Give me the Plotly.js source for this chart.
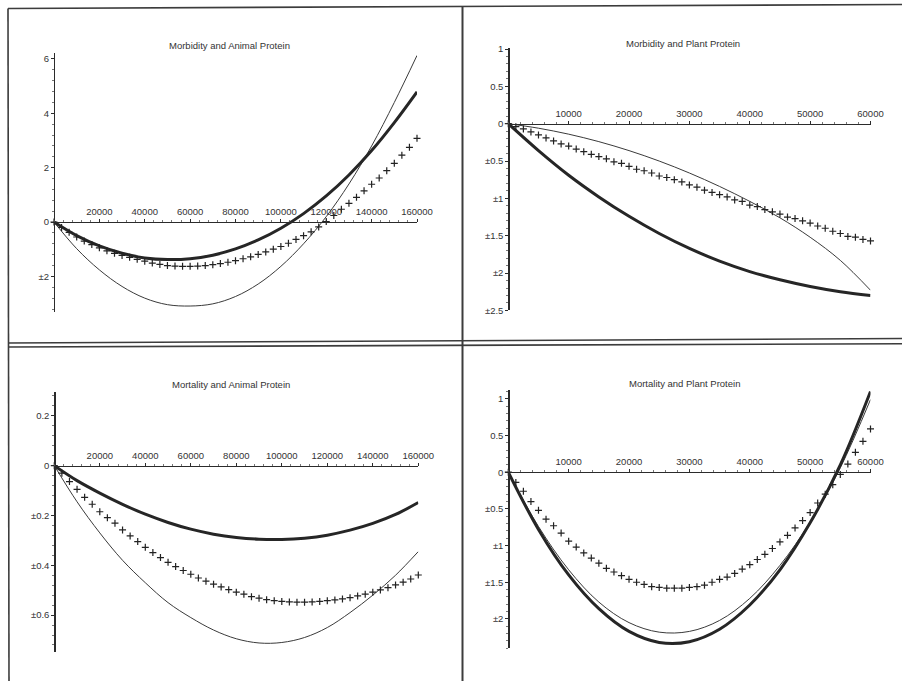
<!DOCTYPE html>
<html><head><meta charset="utf-8">
<script src="https://cdn.plot.ly/plotly-3.0.1.min.js"></script>
<style>html,body{margin:0;padding:0;background:#fff}#chart{width:902px;height:681px}</style>
</head><body><div id="chart"></div>
<script>
// ---------- DATA ----------
const titles = ['Morbidity and Animal Protein', 'Morbidity and Plant Protein',
                'Mortality and Animal Protein', 'Mortality and Plant Protein'];

const curveX160 = [0,10000,20000,30000,40000,50000,60000,70000,80000,90000,100000,110000,120000,130000,140000,150000,160000];
const curveX60 = [0,5000,10000,15000,20000,25000,30000,35000,40000,45000,50000,55000,60000];
const crossX160 = [0,3333,6667,10000,13333,16667,20000,23333,26667,30000,33333,36667,40000,43333,46667,50000,53333,56667,60000,63333,66667,70000,73333,76667,80000,83333,86667,90000,93333,96667,100000,103333,106667,110000,113333,116667,120000,123333,126667,130000,133333,136667,140000,143333,146667,150000,153333,156667,160000];
const crossX60 = [0,1250,2500,3750,5000,6250,7500,8750,10000,11250,12500,13750,15000,16250,17500,18750,20000,21250,22500,23750,25000,26250,27500,28750,30000,31250,32500,33750,35000,36250,37500,38750,40000,41250,42500,43750,45000,46250,47500,48750,50000,51250,52500,53750,55000,56250,57500,58750,60000];

// Morbidity & animal protein
const morbAnimThick = [0,-0.50,-0.88,-1.15,-1.32,-1.38,-1.35,-1.22,-0.99,-0.66,-0.23,0.31,0.96,1.73,2.63,3.66,4.79];
const morbAnimThin = [0,-0.98,-1.76,-2.37,-2.80,-3.04,-3.09,-3.01,-2.74,-2.28,-1.63,-0.80,0.20,1.40,2.80,4.40,6.13];
const morbAnimCross = [0,-0.20,-0.38,-0.55,-0.70,-0.83,-0.95,-1.06,-1.15,-1.23,-1.30,-1.37,-1.44,-1.51,-1.56,-1.60,-1.62,-1.63,-1.63,-1.62,-1.60,-1.57,-1.53,-1.48,-1.42,-1.35,-1.28,-1.19,-1.10,-1.00,-0.90,-0.78,-0.64,-0.50,-0.36,-0.18,0.02,0.24,0.47,0.69,0.91,1.15,1.39,1.62,1.89,2.16,2.46,2.75,3.08];

// Morbidity & plant protein
const morbPlantThick = [0,-0.36,-0.69,-0.98,-1.24,-1.47,-1.67,-1.84,-1.98,-2.09,-2.18,-2.25,-2.30];
const morbPlantThin = [0,-0.06,-0.14,-0.24,-0.36,-0.50,-0.66,-0.84,-1.04,-1.26,-1.52,-1.83,-2.23];
const morbPlantCross = [0,-0.04,-0.07,-0.11,-0.15,-0.19,-0.23,-0.27,-0.30,-0.34,-0.375,-0.41,-0.44,-0.47,-0.51,-0.53,-0.57,-0.61,-0.63,-0.66,-0.70,-0.72,-0.75,-0.78,-0.82,-0.85,-0.89,-0.92,-0.95,-0.98,-1.02,-1.04,-1.09,-1.11,-1.15,-1.18,-1.21,-1.25,-1.27,-1.30,-1.33,-1.37,-1.40,-1.44,-1.47,-1.51,-1.52,-1.55,-1.57];

// Mortality & animal protein
const mortAnimThick = [0,-0.06,-0.11,-0.155,-0.195,-0.228,-0.255,-0.275,-0.288,-0.295,-0.296,-0.291,-0.279,-0.259,-0.232,-0.196,-0.148];
const mortAnimThin = [0,-0.145,-0.27,-0.38,-0.47,-0.55,-0.61,-0.66,-0.695,-0.712,-0.71,-0.69,-0.65,-0.59,-0.52,-0.44,-0.345];
const mortAnimCross = [0,-0.03,-0.064,-0.095,-0.127,-0.155,-0.185,-0.209,-0.231,-0.258,-0.282,-0.305,-0.328,-0.349,-0.369,-0.388,-0.405,-0.421,-0.436,-0.451,-0.464,-0.476,-0.487,-0.498,-0.508,-0.516,-0.526,-0.532,-0.538,-0.542,-0.545,-0.547,-0.548,-0.548,-0.547,-0.545,-0.542,-0.539,-0.535,-0.530,-0.523,-0.516,-0.508,-0.499,-0.490,-0.479,-0.468,-0.455,-0.439];

// Mortality & plant protein
const mortPlantThick = [0,-0.78,-1.40,-1.86,-2.17,-2.32,-2.31,-2.14,-1.81,-1.33,-0.69,0.10,1.10];
const mortPlantThin = [0,-0.74,-1.33,-1.77,-2.05,-2.18,-2.17,-2.02,-1.72,-1.27,-0.68,0.06,0.99];
const mortPlantCross = [0,-0.14,-0.26,-0.40,-0.52,-0.64,-0.73,-0.83,-0.94,-1.02,-1.10,-1.17,-1.24,-1.31,-1.36,-1.41,-1.46,-1.50,-1.53,-1.56,-1.57,-1.58,-1.58,-1.58,-1.57,-1.56,-1.54,-1.50,-1.46,-1.43,-1.38,-1.32,-1.26,-1.19,-1.12,-1.04,-0.95,-0.86,-0.76,-0.66,-0.55,-0.42,-0.30,-0.17,-0.03,0.11,0.27,0.42,0.59];

// Tick labels
const xTicks160 = [20000,40000,60000,80000,100000,120000,140000,160000];
const xText160 = ['20000','40000','60000','80000','100000','120000','140000','160000'];
const xTicks60 = [10000,20000,30000,40000,50000,60000];
const xText60 = ['10000','20000','30000','40000','50000','60000'];
const yTicks1 = [-2,0,2,4,6];            const yText1 = ['±2','0','2','4','6'];
const yTicks2 = [-2.5,-2,-1.5,-1,-0.5,0,0.5,1]; const yText2 = ['±2.5','±2','±1.5','±1','±0.5','0','0.5','1'];
const yTicks3 = [-0.6,-0.4,-0.2,0,0.2];  const yText3 = ['±0.6','±0.4','±0.2','0','0.2'];
const yTicks4 = [-2,-1.5,-1,-0.5,0,0.5,1]; const yText4 = ['±2','±1.5','±1','±0.5','0','0.5','1'];

// ---------- LAYOUT ----------
const W = 902, H = 681;
const FONT = '"Liberation Sans", Arial, Helvetica, sans-serif';
const INK = '#2b2b2b';

const panels = [
  {title: titles[0], cx: curveX160, thick: morbAnimThick, thin: morbAnimThin, crx: crossX160, cry: morbAnimCross,
   xr: [0,160000], yr: [-3.31,6.22], px: [54,417], py: [312,53], xt: xTicks160, xtt: xText160, yt: yTicks1, ytt: yText1,
   xminor: 4000, yminor: 0.4, tpos: [229,46]},
  {title: titles[1], cx: curveX60, thick: morbPlantThick, thin: morbPlantThin, crx: crossX60, cry: morbPlantCross,
   xr: [0,60000], yr: [-2.5,1.01], px: [508.3,870.5], py: [310.4,48.3], xt: xTicks60, xtt: xText60, yt: yTicks2, ytt: yText2,
   xminor: 2000, yminor: 0.1, tpos: [683,43]},
  {title: titles[2], cx: curveX160, thick: mortAnimThick, thin: mortAnimThin, crx: crossX160, cry: mortAnimCross,
   xr: [0,160000], yr: [-0.747,0.297], px: [54.3,418.3], py: [651.7,391.7], xt: xTicks160, xtt: xText160, yt: yTicks3, ytt: yText3,
   xminor: 4000, yminor: 0.04, tpos: [231,385]},
  {title: titles[3], cx: curveX60, thick: mortPlantThick, thin: mortPlantThin, crx: crossX60, cry: mortPlantCross,
   xr: [0,60000], yr: [-2.4,1.12], px: [508.3,870.5], py: [648.3,390], xt: xTicks60, xtt: xText60, yt: yTicks4, ytt: yText4,
   xminor: 2000, yminor: 0.1, tpos: [684,383]}
];

const traces = [];
const layout = {
  width: W, height: H, margin: {l:0, r:0, t:0, b:0},
  paper_bgcolor: '#ffffff', plot_bgcolor: 'rgba(0,0,0,0)',
  showlegend: false, font: {family: FONT, size: 9.5, color: '#333'},
  annotations: [], shapes: []
};

panels.forEach((p, i) => {
  const n = i === 0 ? '' : String(i + 1);
  const xa = 'x' + n, ya = 'y' + n;
  const xd = [p.px[0] / W, p.px[1] / W];
  const yd = [1 - p.py[0] / H, 1 - p.py[1] / H];
  const xPos = yd[0] + (0 - p.yr[0]) / (p.yr[1] - p.yr[0]) * (yd[1] - yd[0]);

  layout['xaxis' + n] = {
    domain: xd, range: p.xr, anchor: 'free', position: xPos, side: 'top',
    showgrid: false, zeroline: false, showline: true, linecolor: INK, linewidth: 1.2,
    tickmode: 'array', tickvals: p.xt, ticktext: p.xtt, ticks: 'outside', ticklen: 3,
    tickcolor: INK, tickwidth: 1, tickfont: {family: FONT, size: 9.5, color: '#333'},
    minor: {ticks: 'outside', ticklen: 2, dtick: p.xminor, tick0: 0, tickcolor: '#555', tickwidth: 0.8, showgrid: false},
    fixedrange: true
  };
  layout['yaxis' + n] = {
    domain: yd, range: p.yr, anchor: 'free', position: xd[0], side: 'left',
    showgrid: false, zeroline: false, showline: true, linecolor: INK, linewidth: 1.2,
    tickmode: 'array', tickvals: p.yt, ticktext: p.ytt, ticks: 'outside', ticklen: 3,
    tickcolor: INK, tickwidth: 1, tickfont: {family: FONT, size: 9.5, color: '#333'},
    minor: {ticks: 'outside', ticklen: 2, dtick: p.yminor, tick0: 0, tickcolor: '#555', tickwidth: 0.8, showgrid: false},
    fixedrange: true
  };

  traces.push({x: p.cx, y: p.thin, xaxis: xa, yaxis: ya, type: 'scatter', mode: 'lines',
    line: {color: '#3a3a3a', width: 1, shape: 'spline', smoothing: 1}, hoverinfo: 'skip'});
  traces.push({x: p.cx, y: p.thick, xaxis: xa, yaxis: ya, type: 'scatter', mode: 'lines',
    line: {color: '#262626', width: 3, shape: 'spline', smoothing: 1}, hoverinfo: 'skip'});
  traces.push({x: p.crx, y: p.cry, xaxis: xa, yaxis: ya, type: 'scatter', mode: 'markers', cliponaxis: false,
    marker: {symbol: 'cross-thin-open', size: 5, color: '#222', line: {color: '#222', width: 1.2}}, hoverinfo: 'skip'});

  layout.annotations.push({
    text: p.title, xref: 'paper', yref: 'paper', x: p.tpos[0] / W, y: 1 - p.tpos[1] / H,
    xanchor: 'center', yanchor: 'middle', showarrow: false,
    font: {family: FONT, size: 9.5, color: '#333'}
  });
});

// Frame lines of the four-panel sheet
const frame = [
  [8, 8.5, 902, 4.5, 1.6],
  [8, 8.5, 9, 681, 1.6],
  [462.5, 7, 462.5, 681, 2],
  [8, 343, 902, 338.5, 1.6],
  [8, 347, 902, 343.7, 1.6]
];
frame.forEach(f => layout.shapes.push({
  type: 'line', xref: 'paper', yref: 'paper',
  x0: f[0] / W, y0: 1 - f[1] / H, x1: f[2] / W, y1: 1 - f[3] / H,
  line: {color: '#3c3c3c', width: f[4]}
}));

Plotly.newPlot('chart', traces, layout, {displayModeBar: false, staticPlot: true});
</script>
</body></html>
